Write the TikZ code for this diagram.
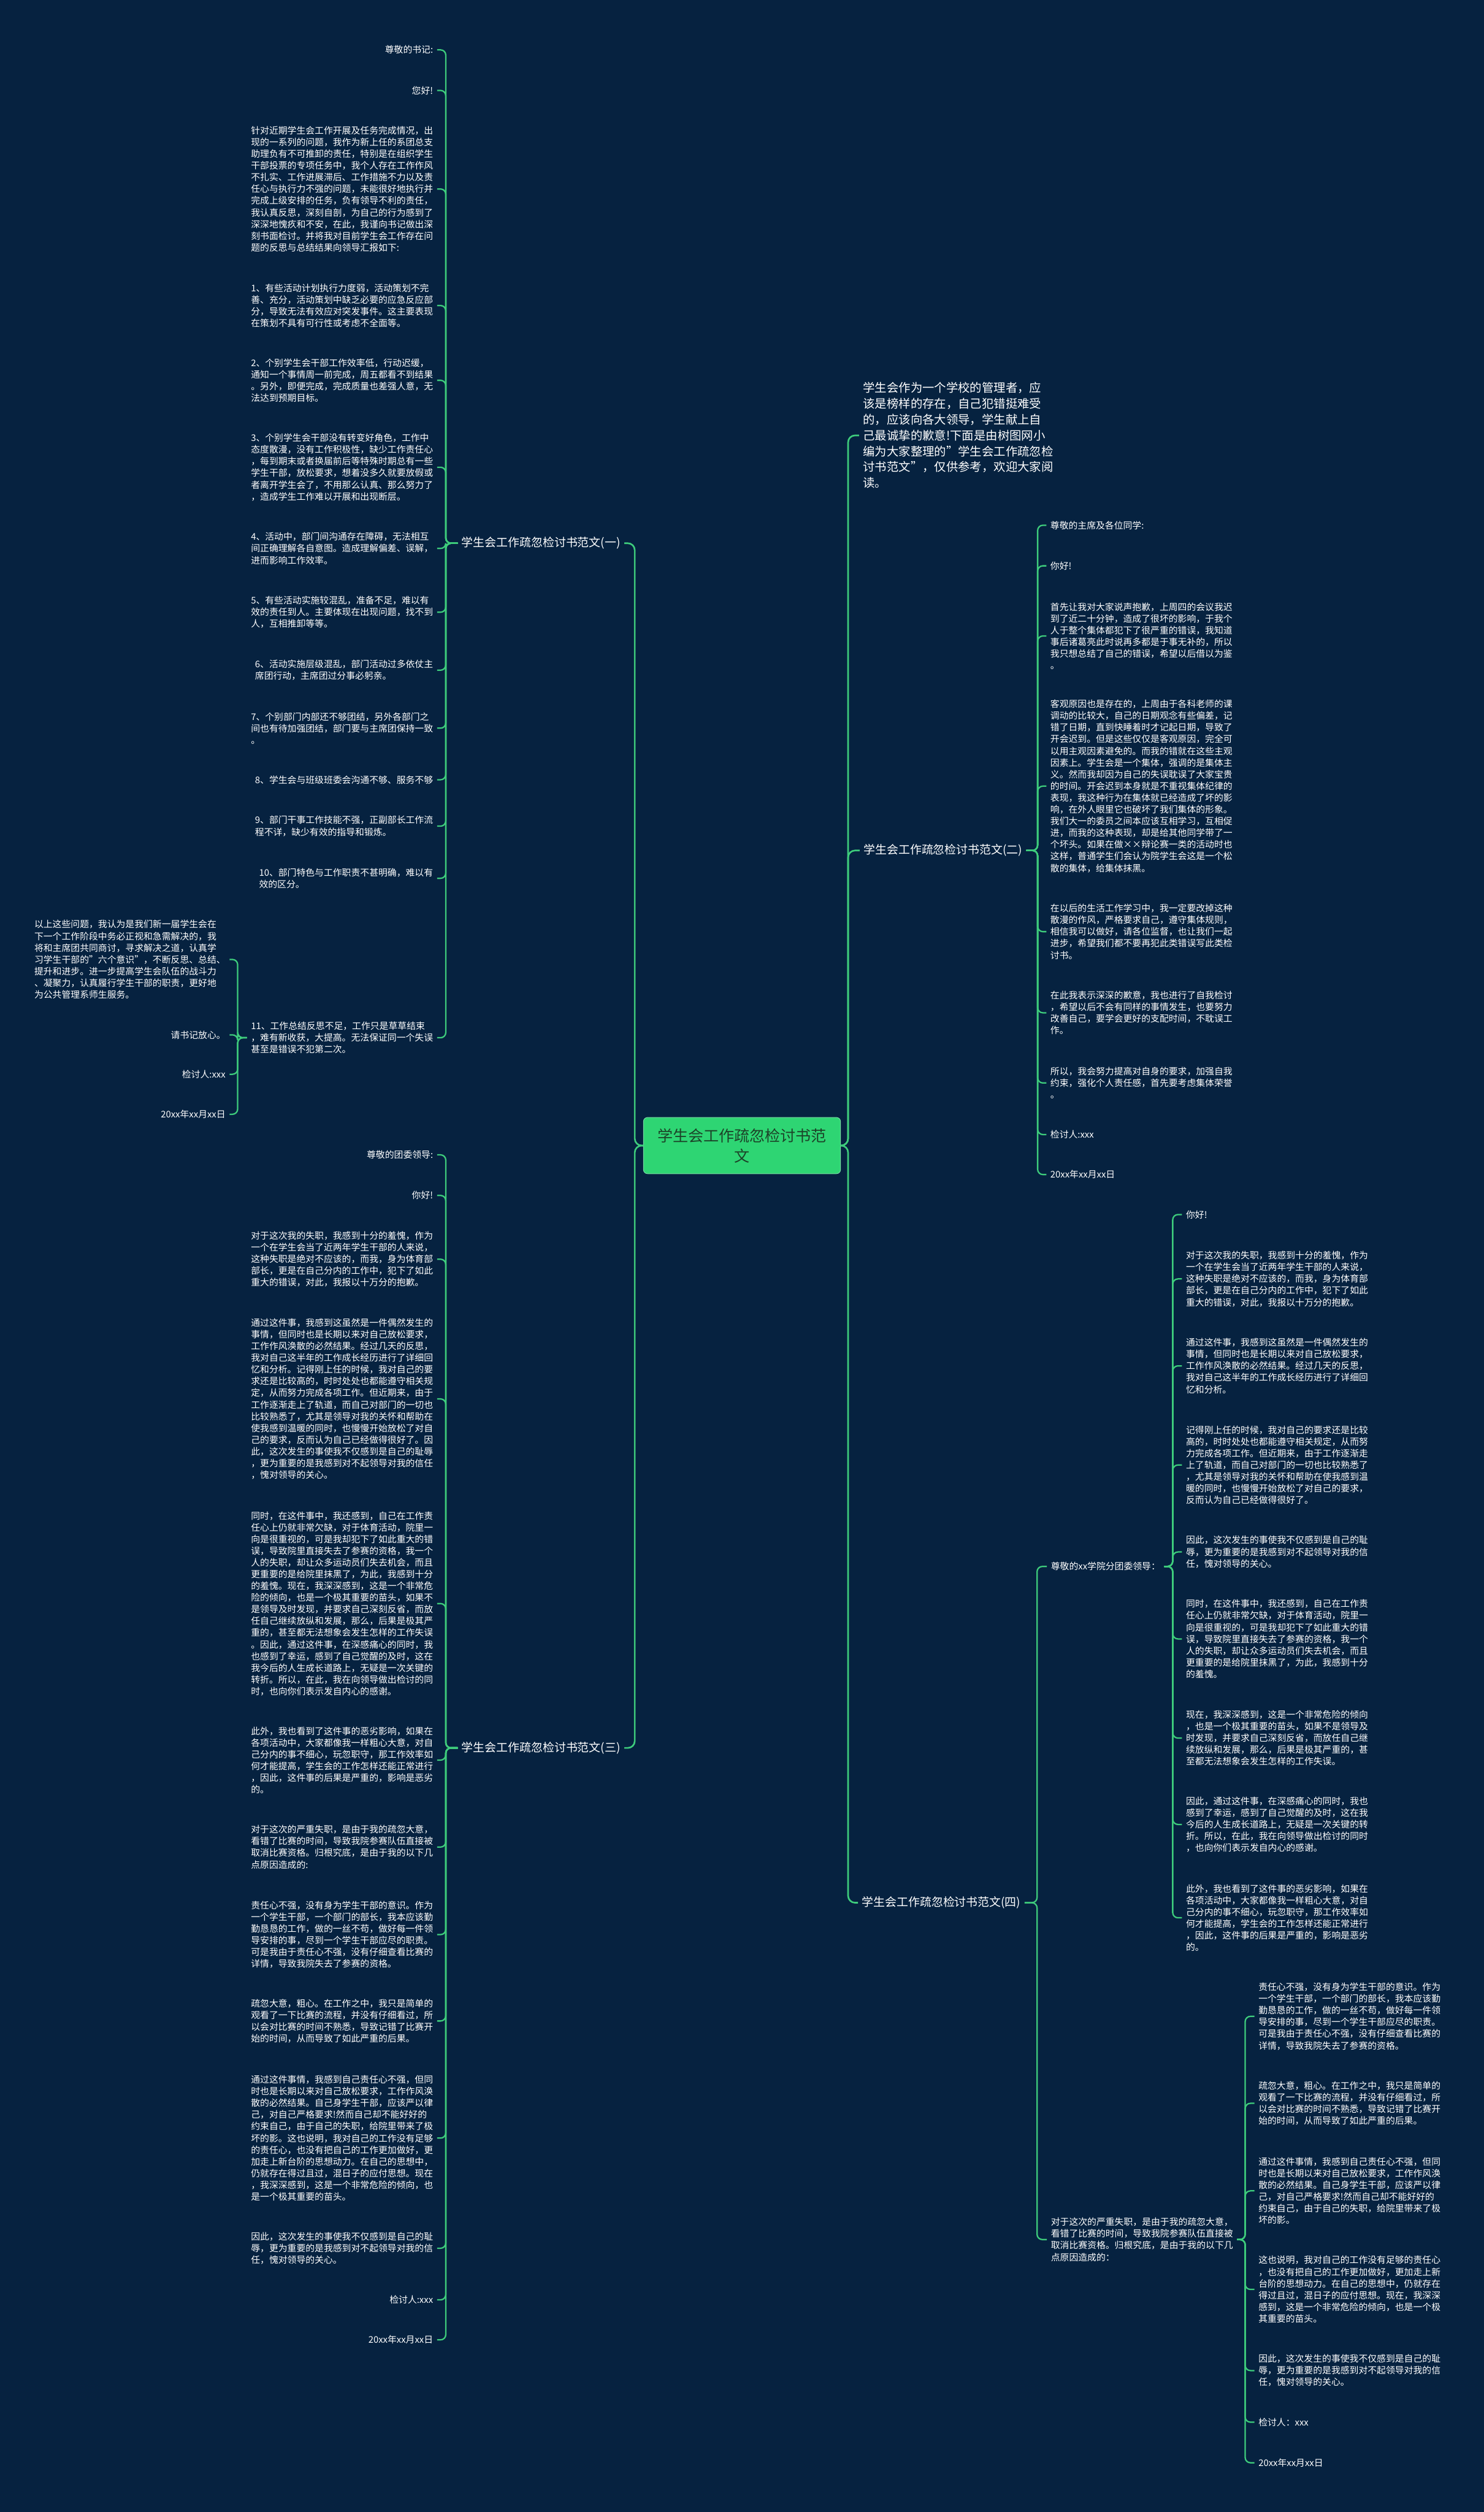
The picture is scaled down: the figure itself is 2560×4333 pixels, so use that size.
\documentclass[tikz,border=0pt]{standalone}
\usepackage{fontspec}
\setmainfont{Noto Sans CJK SC}
\definecolor{bg}{RGB}{6,34,64}
\definecolor{lk}{RGB}{62,204,124}
\definecolor{rootc}{RGB}{46,213,115}
\definecolor{roottxt}{RGB}{28,66,40}
\tikzset{
  every node/.style={inner ysep=0pt, inner xsep=7pt, outer sep=0pt, text=white, align=left},
  body/.style={font=\fontsize{15.7}{20.2}\selectfont},
  lbl/.style={font=\fontsize{20}{26}\selectfont},
  intro/.style={font=\fontsize{20.5}{27.3}\selectfont},
  lnk/.style={draw=lk, line width=2.4pt, rounded corners=9pt},
  mainlnk/.style={draw=lk, line width=2.8pt, rounded corners=12pt},
  rootbox/.style={fill=rootc, draw=lk!70!white, line width=1pt, rounded corners=7pt, minimum width=340pt, minimum height=97pt, align=center, text=roottxt, font=\fontsize{26.5}{35}\selectfont},
  L/.style={body, anchor=east},
  R/.style={body, anchor=west},
}
\begin{document}
\begin{tikzpicture}[x=1pt, y=-1pt]
\fill[bg] (0,0) rectangle (2560,4333);
\useasboundingbox (0,0) rectangle (2560,4333);

% root
\node[rootbox] (root) at (1280,1976) {学生会工作疏忽检讨书范\\文};
\coordinate (rl) at (1095,1976);
\coordinate (rr) at (1463,1976);

% ---------- branch 1 ----------
\node[lbl, anchor=east] (b1) at (1077,937) {学生会工作疏忽检讨书范文(一)};
\coordinate (s1) at (769,937);
\node[L] (c1) at (754,86) {尊敬的书记:};
\node[L] (c2) at (754,156) {您好!};
\node[L] (c3) at (754,326) {针对近期学生会工作开展及任务完成情况，出\\现的一系列的问题，我作为新上任的系团总支\\助理负有不可推卸的责任，特别是在组织学生\\干部投票的专项任务中，我个人存在工作作风\\不扎实、工作进展滞后、工作措施不力以及责\\任心与执行力不强的问题，未能很好地执行并\\完成上级安排的任务，负有领导不利的责任，\\我认真反思，深刻自剖，为自己的行为感到了\\深深地愧疚和不安，在此，我谨向书记做出深\\刻书面检讨。并将我对目前学生会工作存在问\\题的反思与总结结果向领导汇报如下:};
\node[L] (c4) at (754,527) {1、有些活动计划执行力度弱，活动策划不完\\善、充分，活动策划中缺乏必要的应急反应部\\分，导致无法有效应对突发事件。这主要表现\\在策划不具有可行性或考虑不全面等。};
\node[L] (c5) at (754,656) {2、个别学生会干部工作效率低，行动迟缓，\\通知一个事情周一前完成，周五都看不到结果\\。另外，即便完成，完成质量也差强人意，无\\法达到预期目标。};
\node[L] (c6) at (754,806) {3、个别学生会干部没有转变好角色，工作中\\态度散漫，没有工作积极性，缺少工作责任心\\，每到期末或者换届前后等特殊时期总有一些\\学生干部，放松要求，想着没多久就要放假或\\者离开学生会了，不用那么认真、那么努力了\\，造成学生工作难以开展和出现断层。};
\node[L] (c7) at (754,946) {4、活动中，部门间沟通存在障碍，无法相互\\间正确理解各自意图。造成理解偏差、误解，\\进而影响工作效率。};
\node[L] (c8) at (754,1056) {5、有些活动实施较混乱，准备不足，难以有\\效的责任到人。主要体现在出现问题，找不到\\人，互相推卸等等。};
\node[L] (c9) at (754,1156) {6、活动实施层级混乱，部门活动过多依仗主\\席团行动，主席团过分事必躬亲。};
\node[L] (c10) at (754,1256) {7、个别部门内部还不够团结，另外各部门之\\间也有待加强团结，部门要与主席团保持一致\\。};
\node[L] (c11) at (754,1345) {8、学生会与班级班委会沟通不够、服务不够};
\node[L] (c12) at (754,1425) {9、部门干事工作技能不强，正副部长工作流\\程不详，缺少有效的指导和锻炼。};
\node[L] (c13) at (754,1515) {10、部门特色与工作职责不甚明确，难以有\\效的区分。};
\node[L] (c14) at (754,1790) {11、工作总结反思不足，工作只是草草结束\\，难有新收获，大提高。无法保证同一个失误\\甚至是错误不犯第二次。};
\coordinate (s14) at (410,1790);
\node[L] (d1) at (396,1655) {以上这些问题，我认为是我们新一届学生会在\\下一个工作阶段中务必正视和急需解决的，我\\将和主席团共同商讨，寻求解决之道，认真学\\习学生干部的"六个意识"，不断反思、总结、\\提升和进步。进一步提高学生会队伍的战斗力\\、凝聚力，认真履行学生干部的职责，更好地\\为公共管理系师生服务。};
\node[L] (d2) at (396,1785) {请书记放心。};
\node[L] (d3) at (396,1853) {检讨人:xxx};
\node[L] (d4) at (396,1922) {20xx年xx月xx日};

% ---------- branch 3 ----------
\node[lbl, anchor=east] (b3) at (1077,3015) {学生会工作疏忽检讨书范文(三)};
\coordinate (s3) at (769,3015);
\node[L] (e1) at (754,1992) {尊敬的团委领导:};
\node[L] (e2) at (754,2062) {你好!};
\node[L] (e3) at (754,2172) {对于这次我的失职，我感到十分的羞愧，作为\\一个在学生会当了近两年学生干部的人来说，\\这种失职是绝对不应该的，而我，身为体育部\\部长，更是在自己分内的工作中，犯下了如此\\重大的错误，对此，我报以十万分的抱歉。};
\node[L] (e4) at (754,2413) {通过这件事，我感到这虽然是一件偶然发生的\\事情，但同时也是长期以来对自己放松要求，\\工作作风涣散的必然结果。经过几天的反思，\\我对自己这半年的工作成长经历进行了详细回\\忆和分析。记得刚上任的时候，我对自己的要\\求还是比较高的，时时处处也都能遵守相关规\\定，从而努力完成各项工作。但近期来，由于\\工作逐渐走上了轨道，而自己对部门的一切也\\比较熟悉了，尤其是领导对我的关怀和帮助在\\使我感到温暖的同时，也慢慢开始放松了对自\\己的要求，反而认为自己已经做得很好了。因\\此，这次发生的事使我不仅感到是自己的耻辱\\，更为重要的是我感到对不起领导对我的信任\\，愧对领导的关心。};
\node[L] (e5) at (754,2766) {同时，在这件事中，我还感到，自己在工作责\\任心上仍就非常欠缺，对于体育活动，院里一\\向是很重视的，可是我却犯下了如此重大的错\\误，导致院里直接失去了参赛的资格，我一个\\人的失职，却让众多运动员们失去机会，而且\\更重要的是给院里抹黑了，为此，我感到十分\\的羞愧。现在，我深深感到，这是一个非常危\\险的倾向，也是一个极其重要的苗头，如果不\\是领导及时发现，并要求自己深刻反省，而放\\任自己继续放纵和发展，那么，后果是极其严\\重的，甚至都无法想象会发生怎样的工作失误\\。因此，通过这件事，在深感痛心的同时，我\\也感到了幸运，感到了自己觉醒的及时，这在\\我今后的人生成长道路上，无疑是一次关键的\\转折。所以，在此，我在向领导做出检讨的同\\时，也向你们表示发自内心的感谢。};
\node[L] (e6) at (754,3036) {此外，我也看到了这件事的恶劣影响，如果在\\各项活动中，大家都像我一样粗心大意，对自\\己分内的事不细心，玩忽职守，那工作效率如\\何才能提高，学生会的工作怎样还能正常进行\\，因此，这件事的后果是严重的，影响是恶劣\\的。};
\node[L] (e7) at (754,3186) {对于这次的严重失职，是由于我的疏忽大意，\\看错了比赛的时间，导致我院参赛队伍直接被\\取消比赛资格。归根究底，是由于我的以下几\\点原因造成的:};
\node[L] (e8) at (754,3337) {责任心不强，没有身为学生干部的意识。作为\\一个学生干部，一个部门的部长，我本应该勤\\勤恳恳的工作，做的一丝不苟，做好每一件领\\导安排的事，尽到一个学生干部应尽的职责。\\可是我由于责任心不强，没有仔细查看比赛的\\详情，导致我院失去了参赛的资格。};
\node[L] (e9) at (754,3486) {疏忽大意，粗心。在工作之中，我只是简单的\\观看了一下比赛的流程，并没有仔细看过，所\\以会对比赛的时间不熟悉，导致记错了比赛开\\始的时间，从而导致了如此严重的后果。};
\node[L] (e10) at (754,3688) {通过这件事情，我感到自己责任心不强，但同\\时也是长期以来对自己放松要求，工作作风涣\\散的必然结果。自己身学生干部，应该严以律\\己，对自己严格要求!然而自己却不能好好的\\约束自己，由于自己的失职，给院里带来了极\\坏的影。这也说明，我对自己的工作没有足够\\的责任心，也没有把自己的工作更加做好，更\\加走上新台阶的思想动力。在自己的思想中，\\仍就存在得过且过，混日子的应付思想。现在\\，我深深感到，这是一个非常危险的倾向，也\\是一个极其重要的苗头。};
\node[L] (e11) at (754,3878) {因此，这次发生的事使我不仅感到是自己的耻\\辱，更为重要的是我感到对不起领导对我的信\\任，愧对领导的关心。};
\node[L] (e12) at (754,3967) {检讨人:xxx};
\node[L] (e13) at (754,4036) {20xx年xx月xx日};

% ---------- intro ----------
\node[intro, anchor=west] (intro) at (1482,751) {学生会作为一个学校的管理者，应\\该是榜样的存在，自己犯错挺难受\\的，应该向各大领导，学生献上自\\己最诚挚的歉意!下面是由树图网小\\编为大家整理的"学生会工作疏忽检\\讨书范文"，仅供参考，欢迎大家阅\\读。};

% ---------- branch 2 ----------
\node[lbl, anchor=west] (b2) at (1483,1467) {学生会工作疏忽检讨书范文(二)};
\coordinate (s2) at (1790,1467);
\node[R] (f1) at (1805,906) {尊敬的主席及各位同学:};
\node[R] (f2) at (1805,976) {你好!};
\node[R] (f3) at (1805,1097) {首先让我对大家说声抱歉，上周四的会议我迟\\到了近二十分钟，造成了很坏的影响，于我个\\人于整个集体都犯下了很严重的错误，我知道\\事后诸葛亮此时说再多都是于事无补的，所以\\我只想总结了自己的错误，希望以后借以为鉴\\。};
\node[R] (f4) at (1805,1356) {客观原因也是存在的，上周由于各科老师的课\\调动的比较大，自己的日期观念有些偏差，记\\错了日期，直到快睡着时才记起日期，导致了\\开会迟到。但是这些仅仅是客观原因，完全可\\以用主观因素避免的。而我的错就在这些主观\\因素上。学生会是一个集体，强调的是集体主\\义。然而我却因为自己的失误耽误了大家宝贵\\的时间。开会迟到本身就是不重视集体纪律的\\表现，我这种行为在集体就已经造成了坏的影\\响，在外人眼里它也破坏了我们集体的形象。\\我们大一的委员之间本应该互相学习，互相促\\进，而我的这种表现，却是给其他同学带了一\\个坏头。如果在做××辩论赛一类的活动时也\\这样，普通学生们会认为院学生会这是一个松\\散的集体，给集体抹黑。};
\node[R] (f5) at (1805,1607) {在以后的生活工作学习中，我一定要改掉这种\\散漫的作风，严格要求自己，遵守集体规则，\\相信我可以做好，请各位监督，也让我们一起\\进步，希望我们都不要再犯此类错误写此类检\\讨书。};
\node[R] (f6) at (1805,1747) {在此我表示深深的歉意，我也进行了自我检讨\\，希望以后不会有同样的事情发生，也要努力\\改善自己，要学会更好的支配时间，不耽误工\\作。};
\node[R] (f7) at (1805,1868) {所以，我会努力提高对自身的要求，加强自我\\约束，强化个人责任感，首先要考虑集体荣誉\\。};
\node[R] (f8) at (1805,1957) {检讨人:xxx};
\node[R] (f9) at (1805,2026) {20xx年xx月xx日};

% ---------- branch 4 ----------
\node[lbl, anchor=west] (b4) at (1480,3282) {学生会工作疏忽检讨书范文(四)};
\coordinate (s4) at (1789,3282);
\node[R] (gA) at (1806,2702) {尊敬的xx学院分团委领导：};
\coordinate (sA) at (2023,2702);
\node[R] (a1) at (2039,2095) {你好!};
\node[R] (a2) at (2039,2206) {对于这次我的失职，我感到十分的羞愧，作为\\一个在学生会当了近两年学生干部的人来说，\\这种失职是绝对不应该的，而我，身为体育部\\部长，更是在自己分内的工作中，犯下了如此\\重大的错误，对此，我报以十万分的抱歉。};
\node[R] (a3) at (2039,2356) {通过这件事，我感到这虽然是一件偶然发生的\\事情，但同时也是长期以来对自己放松要求，\\工作作风涣散的必然结果。经过几天的反思，\\我对自己这半年的工作成长经历进行了详细回\\忆和分析。};
\node[R] (a4) at (2039,2527) {记得刚上任的时候，我对自己的要求还是比较\\高的，时时处处也都能遵守相关规定，从而努\\力完成各项工作。但近期来，由于工作逐渐走\\上了轨道，而自己对部门的一切也比较熟悉了\\，尤其是领导对我的关怀和帮助在使我感到温\\暖的同时，也慢慢开始放松了对自己的要求，\\反而认为自己已经做得很好了。};
\node[R] (a5) at (2039,2677) {因此，这次发生的事使我不仅感到是自己的耻\\辱，更为重要的是我感到对不起领导对我的信\\任，愧对领导的关心。};
\node[R] (a6) at (2039,2827) {同时，在这件事中，我还感到，自己在工作责\\任心上仍就非常欠缺，对于体育活动，院里一\\向是很重视的，可是我却犯下了如此重大的错\\误，导致院里直接失去了参赛的资格，我一个\\人的失职，却让众多运动员们失去机会，而且\\更重要的是给院里抹黑了，为此，我感到十分\\的羞愧。};
\node[R] (a7) at (2039,2998) {现在，我深深感到，这是一个非常危险的倾向\\，也是一个极其重要的苗头，如果不是领导及\\时发现，并要求自己深刻反省，而放任自己继\\续放纵和发展，那么，后果是极其严重的，甚\\至都无法想象会发生怎样的工作失误。};
\node[R] (a8) at (2039,3147) {因此，通过这件事，在深感痛心的同时，我也\\感到了幸运，感到了自己觉醒的及时，这在我\\今后的人生成长道路上，无疑是一次关键的转\\折。所以，在此，我在向领导做出检讨的同时\\，也向你们表示发自内心的感谢。};
\node[R] (a9) at (2039,3308) {此外，我也看到了这件事的恶劣影响，如果在\\各项活动中，大家都像我一样粗心大意，对自\\己分内的事不细心，玩忽职守，那工作效率如\\何才能提高，学生会的工作怎样还能正常进行\\，因此，这件事的后果是严重的，影响是恶劣\\的。};
\node[R] (gB) at (1806,3863) {对于这次的严重失职，是由于我的疏忽大意，\\看错了比赛的时间，导致我院参赛队伍直接被\\取消比赛资格。归根究底，是由于我的以下几\\点原因造成的：};
\coordinate (sB) at (2148,3863);
\node[R] (h1) at (2164,3478) {责任心不强，没有身为学生干部的意识。作为\\一个学生干部，一个部门的部长，我本应该勤\\勤恳恳的工作，做的一丝不苟，做好每一件领\\导安排的事，尽到一个学生干部应尽的职责。\\可是我由于责任心不强，没有仔细查看比赛的\\详情，导致我院失去了参赛的资格。};
\node[R] (h2) at (2164,3628) {疏忽大意，粗心。在工作之中，我只是简单的\\观看了一下比赛的流程，并没有仔细看过，所\\以会对比赛的时间不熟悉，导致记错了比赛开\\始的时间，从而导致了如此严重的后果。};
\node[R] (h3) at (2164,3779) {通过这件事情，我感到自己责任心不强，但同\\时也是长期以来对自己放松要求，工作作风涣\\散的必然结果。自己身学生干部，应该严以律\\己，对自己严格要求!然而自己却不能好好的\\约束自己，由于自己的失职，给院里带来了极\\坏的影。};
\node[R] (h4) at (2164,3949) {这也说明，我对自己的工作没有足够的责任心\\，也没有把自己的工作更加做好，更加走上新\\台阶的思想动力。在自己的思想中，仍就存在\\得过且过，混日子的应付思想。现在，我深深\\感到，这是一个非常危险的倾向，也是一个极\\其重要的苗头。};
\node[R] (h5) at (2164,4089) {因此，这次发生的事使我不仅感到是自己的耻\\辱，更为重要的是我感到对不起领导对我的信\\任，愧对领导的关心。};
\node[R] (h6) at (2164,4178) {检讨人：xxx};
\node[R] (h7) at (2164,4248) {20xx年xx月xx日};

% ---------- connectors ----------
\foreach \n in {b1,b3} \draw[mainlnk] (root.west) -- (rl) |- (\n.east);
\foreach \n in {intro,b2,b4} \draw[mainlnk] (root.east) -- (rr) |- (\n.west);
\foreach \n in {c1,c2,c3,c4,c5,c6,c7,c8,c9,c10,c11,c12,c13,c14} \draw[lnk] (b1.west) -- (s1) |- (\n.east);
\foreach \n in {d1,d2,d3,d4} \draw[lnk] (c14.west) -- (s14) |- (\n.east);
\foreach \n in {e1,e2,e3,e4,e5,e6,e7,e8,e9,e10,e11,e12,e13} \draw[lnk] (b3.west) -- (s3) |- (\n.east);
\foreach \n in {f1,f2,f3,f4,f5,f6,f7,f8,f9} \draw[lnk] (b2.east) -- (s2) |- (\n.west);
\foreach \n in {gA,gB} \draw[lnk] (b4.east) -- (s4) |- (\n.west);
\foreach \n in {a1,a2,a3,a4,a5,a6,a7,a8,a9} \draw[lnk] (gA.east) -- (sA) |- (\n.west);
\foreach \n in {h1,h2,h3,h4,h5,h6,h7} \draw[lnk] (gB.east) -- (sB) |- (\n.west);
\end{tikzpicture}
\end{document}
